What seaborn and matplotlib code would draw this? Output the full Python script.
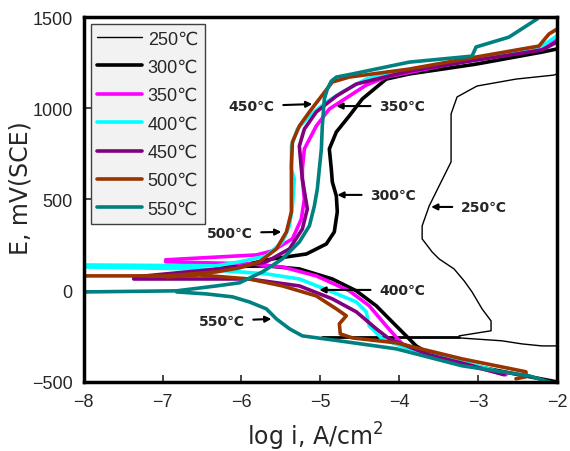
import numpy as np
import matplotlib
matplotlib.use("Agg")
import matplotlib.pyplot as plt
import seaborn as sns

# polarization curves, x = log i (A/cm2), y = E (mV vs SCE)
temps = ["250℃", "300℃", "350℃", "400℃", "450℃", "500℃", "550℃"]
colors = ["black", "black", "#ff00ff", "#00ffff", "#800080", "#993300", "#008080"]

# 250C
x250_an = [-3.241, -2.835, -2.835, -2.949, -3.076, -3.177, -3.304, -3.494, -3.582, -3.709, -3.709,
           -3.620, -3.494, -3.342, -3.342, -3.266, -3.013, -2.519, -2.038, -2.0]
e250_an = [-248, -220, -166, -100, -7, 54, 119, 174, 212, 284, 355,
           464, 574, 706, 969, 1062, 1122, 1160, 1182, 1188]
x250_ca = [-3.241, -2.696, -2.443, -2.19, -2.0]
e250_ca = [-259, -275, -292, -303, -303]
x250_dip = [-4.975, -3.241]
e250_dip = [-253, -253]

# 300C
x300_an = [-6.316, -6.025, -5.608, -5.177, -4.924, -4.823, -4.785, -4.797, -4.848, -4.861,
           -4.886, -4.797, -4.633, -4.468, -4.165, -3.873, -3.025, -2.19, -2.0]
e300_an = [136, 136, 174, 201, 256, 322, 432, 519, 596, 667,
           777, 870, 958, 1051, 1160, 1188, 1242, 1308, 1325]
x300_ca = [-6.316, -5.684, -5.266, -4.848, -4.544, -4.291, -4.089, -3.911, -3.785, -3.62,
           -3.114, -2.481, -2.0]
e300_ca = [130, 136, 119, 64, -1, -83, -171, -248, -303, -346, -407, -461, -500]

# 350C
x350_an = [-6.962, -5.81, -5.608, -5.354, -5.241, -5.203, -5.228, -5.228, -5.203, -5.051,
           -4.886, -4.633, -4.418, -4.165, -3.025, -2.19, -2.0]
e350_an = [169, 196, 218, 284, 393, 503, 612, 667, 777, 903,
           996, 1067, 1127, 1171, 1270, 1330, 1379]
x350_ca = [-6.962, -5.899, -5.481, -5.051, -4.633, -4.38, -4.165, -3.962, -3.62, -3.114, -2.646]
e350_ca = [158, 147, 130, 81, -1, -83, -193, -292, -357, -412, -461]

# 400C
x400_an = [-8.0, -6.316, -6.025, -5.684, -5.481, -5.392, -5.354, -5.329, -5.367, -5.367,
           -5.291, -5.139, -4.924, -4.722, -4.418, -3.873, -3.025, -2.19, -2.0]
e400_an = [141, 136, 158, 190, 267, 355, 464, 612, 667, 793,
           886, 958, 1034, 1089, 1160, 1210, 1275, 1341, 1396]
x400_ca = [-8.0, -6.532, -5.684, -5.266, -4.848, -4.544, -4.418, -4.38, -4.215, -3.785,
           -3.203, -2.772]
e400_ca = [130, 119, 92, 64, -7, -62, -116, -193, -264, -335, -390, -440]

# 450C
x450_an = [-7.367, -6.025, -5.684, -5.392, -5.228, -5.165, -5.228, -5.241, -5.266, -5.203,
           -5.051, -4.797, -4.544, -3.873, -3.025, -2.19, -2.0]
e450_an = [75, 130, 158, 229, 338, 448, 612, 667, 793, 886,
           980, 1067, 1133, 1204, 1264, 1319, 1363]
x450_ca = [-7.367, -5.899, -5.266, -4.848, -4.544, -4.291, -4.127, -3.62, -3.114, -2.671]
e450_ca = [64, 64, 26, -45, -116, -209, -264, -352, -407, -461]

# 500C
x500_an = [-8.0, -6.949, -6.316, -6.025, -5.772, -5.557, -5.43, -5.367, -5.367, -5.367,
           -5.354, -5.266, -5.139, -5.013, -4.848, -4.633, -3.873, -3.025, -2.228, -2.101, -2.0]
e500_an = [81, 81, 103, 125, 158, 229, 322, 432, 503, 684,
           815, 903, 980, 1051, 1144, 1171, 1215, 1281, 1341, 1407, 1434]
x500_ca = [-6.949, -6.532, -5.899, -5.481, -5.051, -4.797, -4.671, -4.759, -4.747, -4.595,
           -4.038, -3.203, -2.392, -2.392, -2.519]
e500_ca = [75, 86, 64, 26, -29, -100, -138, -182, -237, -259,
           -286, -374, -445, -472, -483]

# 550C
x550_an = [-8.0, -6.823, -6.316, -6.025, -5.734, -5.481, -5.266, -5.139, -5.076, -5.038,
           -5.013, -4.987, -4.975, -4.949, -4.911, -4.861, -4.797, -4.595, -3.873, -3.076,
           -3.025, -2.608, -2.253, -2.228]
e550_an = [-7, -1, 26, 43, 103, 174, 267, 355, 464, 558,
           667, 777, 903, 1051, 1106, 1149, 1171, 1188, 1253, 1286,
           1336, 1390, 1489, 1500]
x550_ca = [-6.823, -6.443, -6.114, -5.899, -5.684, -5.557, -5.392, -5.228, -4.848, -4.038,
           -3.203, -2.354, -2.101, -2.0]
e550_ca = [-7, -18, -34, -62, -100, -155, -209, -248, -270, -319, -412, -467, -500, -511]

curves = [
    [(x250_an, e250_an), (x250_ca, e250_ca)],
    [(x300_an, e300_an), (x300_ca, e300_ca)],
    [(x350_an, e350_an), (x350_ca, e350_ca)],
    [(x400_an, e400_an), (x400_ca, e400_ca)],
    [(x450_an, e450_an), (x450_ca, e450_ca)],
    [(x500_an, e500_an), (x500_ca, e500_ca)],
    [(x550_an, e550_an), (x550_ca, e550_ca)],
]
widths = [1.0, 2.6, 2.6, 2.6, 2.6, 2.6, 2.6]

# labels with arrows
ann_labels = ["450℃", "350℃", "300℃", "500℃", "400℃", "550℃", "250℃"]
ann_text_x = [-5.873, -3.962, -4.076, -6.152, -3.962, -6.253, -2.924]
ann_text_y = [1012, 1012, 525, 317, 4, -166, 459]
ann_tip_x = [-5.101, -4.797, -4.785, -5.494, -5.013, -5.62, -3.595]
ann_tip_y = [1023, 1012, 525, 322, 4, -155, 459]

sns.set_style("white")
plt.rcParams["font.family"] = ["Liberation Sans", "DejaVu Sans", "Noto Sans CJK KR"]
plt.rcParams["mathtext.default"] = "regular"

fig = plt.figure(figsize=(5.7, 4.52), dpi=100)
ax = fig.add_subplot(111)
fig.subplots_adjust(left=0.147, right=0.977, top=0.960, bottom=0.153)

handles = []
for i, t in enumerate(temps):
    for j, (xs, ys) in enumerate(curves[i]):
        sns.lineplot(x=xs, y=ys, sort=False, estimator=None, ax=ax,
                     color=colors[i], lw=widths[i])
    handles.append(ax.lines[-1])
    if i == 0:
        sns.lineplot(x=x250_dip, y=e250_dip, sort=False, estimator=None, ax=ax,
                     color="black", lw=2.0)

ax.set_xlim(-8, -2)
ax.set_ylim(-500, 1500)
ax.set_xticks(np.arange(-8, -1, 1))
ax.set_yticks(np.arange(-500, 1501, 500))
ax.tick_params(direction="in", length=5, width=1.2, labelsize=13, pad=8,
               top=False, right=False, left=True, bottom=True)
for s in ax.spines.values():
    s.set_linewidth(2.5)
    s.set_color("black")

ax.set_xlabel("log i, A/cm$^{2}$", fontsize=17, family=["DejaVu Sans"])
ax.set_ylabel("E, mV(SCE)", fontsize=17, family=["DejaVu Sans"])
ax.xaxis.set_label_coords(0.49, -0.105)
ax.yaxis.set_label_coords(-0.108, 0.534)

leg = ax.legend(handles, temps, loc="upper left", bbox_to_anchor=(0.015, 0.981),
                borderaxespad=0, fancybox=False, framealpha=1, facecolor="#f2f2f2",
                edgecolor="#404040", fontsize=13, handlelength=2.5, handletextpad=0.3,
                labelspacing=0.63, borderpad=0.35)
leg.get_frame().set_linewidth(1.0)

for k in range(len(ann_labels)):
    ax.annotate(ann_labels[k], xy=(ann_tip_x[k], ann_tip_y[k]),
                xytext=(ann_text_x[k], ann_text_y[k]), ha="center", va="center",
                fontsize=10, fontweight="bold", family=["DejaVu Sans", "Noto Sans CJK KR"],
                arrowprops=dict(arrowstyle="-|>", color="black", lw=1.5,
                                shrinkA=4, shrinkB=0, mutation_scale=9))

fig.savefig("out.png", dpi=100)
